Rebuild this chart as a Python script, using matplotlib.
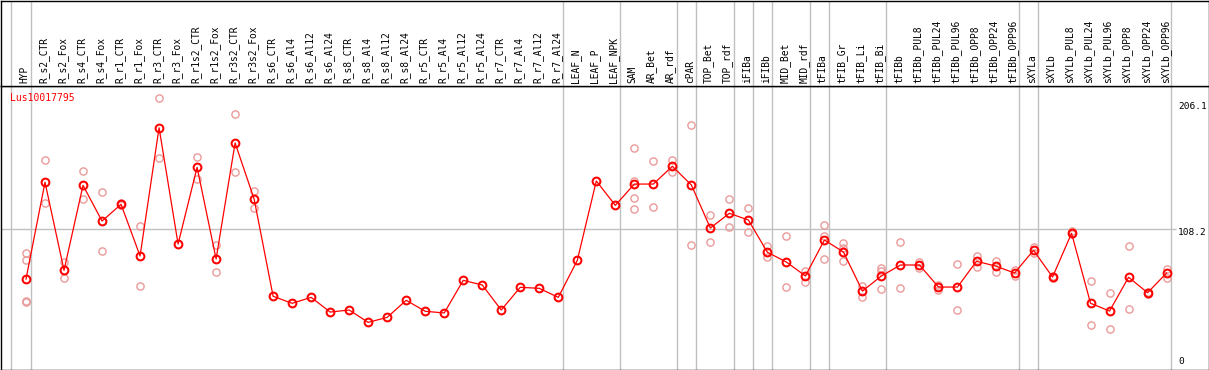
import matplotlib
matplotlib.use("Agg")
import matplotlib.pyplot as plt

labels = ["HYP", "R_s2_CTR", "R_s2_Fox", "R_s4_CTR", "R_s4_Fox", "R_r1_CTR", "R_r1_Fox",
          "R_r3_CTR", "R_r3_Fox", "R_r1s2_CTR", "R_r1s2_Fox", "R_r3s2_CTR", "R_r3s2_Fox",
          "R_s6_CTR", "R_s6_Al4", "R_s6_Al12", "R_s6_Al24", "R_s8_CTR", "R_s8_Al4",
          "R_s8_Al12", "R_s8_Al24", "R_r5_CTR", "R_r5_Al4", "R_r5_Al12", "R_r5_Al24",
          "R_r7_CTR", "R_r7_Al4", "R_r7_Al12", "R_r7_Al24", "LEAF_N", "LEAF_P", "LEAF_NPK",
          "SAM", "AR_Bet", "AR_rdf", "cPAR", "TOP_Bet", "TOP_rdf", "iFIBa", "iFIBb",
          "MID_Bet", "MID_rdf", "tFIBa", "tFIB_Gr", "tFIB_Li", "tFIB_Bi", "tFIBb",
          "tFIBb_PUL8", "tFIBb_PUL24", "tFIBb_PUL96", "tFIBb_OPP8", "tFIBb_OPP24",
          "tFIBb_OPP96", "sXYLa", "sXYLb", "sXYLb_PUL8", "sXYLb_PUL24", "sXYLb_PUL96",
          "sXYLb_OPP8", "sXYLb_OPP24", "sXYLb_OPP96"]

means = [69.0, 144.1, 75.8, 141.7, 114.0, 127.0, 86.9, 186.4, 96.2, 155.7, 84.6, 174.6, 131.1,
         55.6, 50.2, 54.8, 43.4, 45.0, 35.4, 39.3, 52.5, 44.0, 42.7, 68.0, 64.4, 45.0, 62.6,
         61.8, 54.8, 83.5, 145.1, 126.2, 142.7, 142.7, 156.5, 142.0, 108.6, 120.0, 114.8,
         89.8, 82.2, 71.4, 99.3, 90.0, 59.7, 71.4, 79.9, 79.9, 62.8, 62.8, 82.8, 79.1, 73.7,
         91.3, 70.6, 104.5, 50.2, 44.2, 70.4, 58.4, 73.7]

replicates = [
    [89.2, 83.5, 52.3, 51.2], [161.1, 127.7], [82.0, 69.6], [152.6, 130.9], [136.3, 90.5],
    [128.0, 126.2], [109.9, 63.4], [209.2, 162.7], [], [163.5, 146.9], [95.2, 74.2],
    [197.1, 151.8], [137.3, 123.9],
    [], [], [], [], [], [], [], [], [], [], [], [], [], [], [], [], [], [], [],
    [170.4, 145.3, 131.9, 123.1], [160.6, 124.9], [161.4, 152.3], [188.3, 95.4],
    [118.5, 97.5], [130.9, 109.1], [124.1, 105.3], [94.9, 85.9], [102.4, 62.8],
    [75.5, 66.5], [110.9, 102.7, 84.3], [96.7, 93.1, 82.8], [63.9, 55.3],
    [77.8, 75.3, 61.0], [97.5, 61.8], [82.2, 77.3], [64.4, 60.5], [80.4, 45.0],
    [86.9, 78.6], [83.0, 74.7], [76.3, 71.6], [93.6, 89.5], [71.6, 70.0], [106.3, 104.0],
    [67.5, 33.1], [58.2, 30.3], [94.6, 45.8], [59.2, 57.6], [76.8, 70.1]]

separators = [-1, 0, 28, 31, 34, 35, 37, 38, 39, 41, 42, 45, 52, 53, 60]
gene = "Lus10017795"
ytick_vals = [206.1, 108.2, 0]
grid_val = 108.2

W, H = 1209, 370
fig = plt.figure(figsize=(W / 100, H / 100), dpi=100)
mono = "DejaVu Sans Mono"
gray = "#c0c0c0"
pink = "#eb9a9a"

# pixel geometry: index i -> x = 26 + 19.01 * i
step = 19.01
x0 = 26.0
xlim = ((0.5 - x0) / step, (W - 0.5 - x0) / step)

# main axes: rows 85.5 .. 369.5 ; value v -> row 368 - 1.289 v
ppu = 1.289
ax = fig.add_axes([0.5 / W, 0.5 / H, (W - 1) / W, 284 / H])
ax.set_xlim(*xlim)
ax.set_ylim((368 - 369.5) / ppu, (368 - 85.5) / ppu)
for s in ax.spines.values():
    s.set_color("black")
    s.set_linewidth(1.0)
ax.set_xticks([])
ax.set_yticks([])

hx = fig.add_axes([0.5 / W, 284.5 / H, (W - 1) / W, 85 / H])
hx.set_xlim(*xlim)
hx.set_ylim(0, 1)
for s in hx.spines.values():
    s.set_color("black")
    s.set_linewidth(1.0)
hx.set_xticks([])
hx.set_yticks([])

off = 4.5 / step
for k in separators:
    ax.axvline(k + off, color=gray, lw=1.0, zorder=1)
    hx.axvline(k + off, color=gray, lw=1.0, zorder=1)

ax.hlines(grid_val, xlim[0], (1176 - x0) / step, color=gray, lw=1.0, zorder=1)

xs = list(range(len(labels)))
for i, reps in enumerate(replicates):
    if reps:
        ax.plot([i] * len(reps), reps, linestyle="none", marker="o", markersize=5.2,
                markerfacecolor="none", markeredgecolor=pink, markeredgewidth=1.0, zorder=2)

ax.plot(xs, means, color="#ff0000", lw=0.9, marker="o", markersize=5.6,
        markerfacecolor="none", markeredgecolor="#ff0000", markeredgewidth=1.45, zorder=3)

for i, lab in enumerate(labels):
    hx.text(i - 0.08, 0.03, lab, rotation=90, ha="center", va="bottom",
            fontsize=6.9, family=mono, color="black")

ax.text((10 - x0) / step, (368 - 98) / ppu, gene, color="#ff0000", fontsize=7.0,
        family=mono, ha="left", va="center")

ylab_rows = [106.7, 232.3, 361.7]
for v, r in zip(ytick_vals, ylab_rows):
    ax.text((1178 - x0) / step, (368 - r) / ppu, f"{v:g}", color="black", fontsize=6.8,
            family=mono, ha="left", va="center")

fig.savefig("out.png", dpi=100)
